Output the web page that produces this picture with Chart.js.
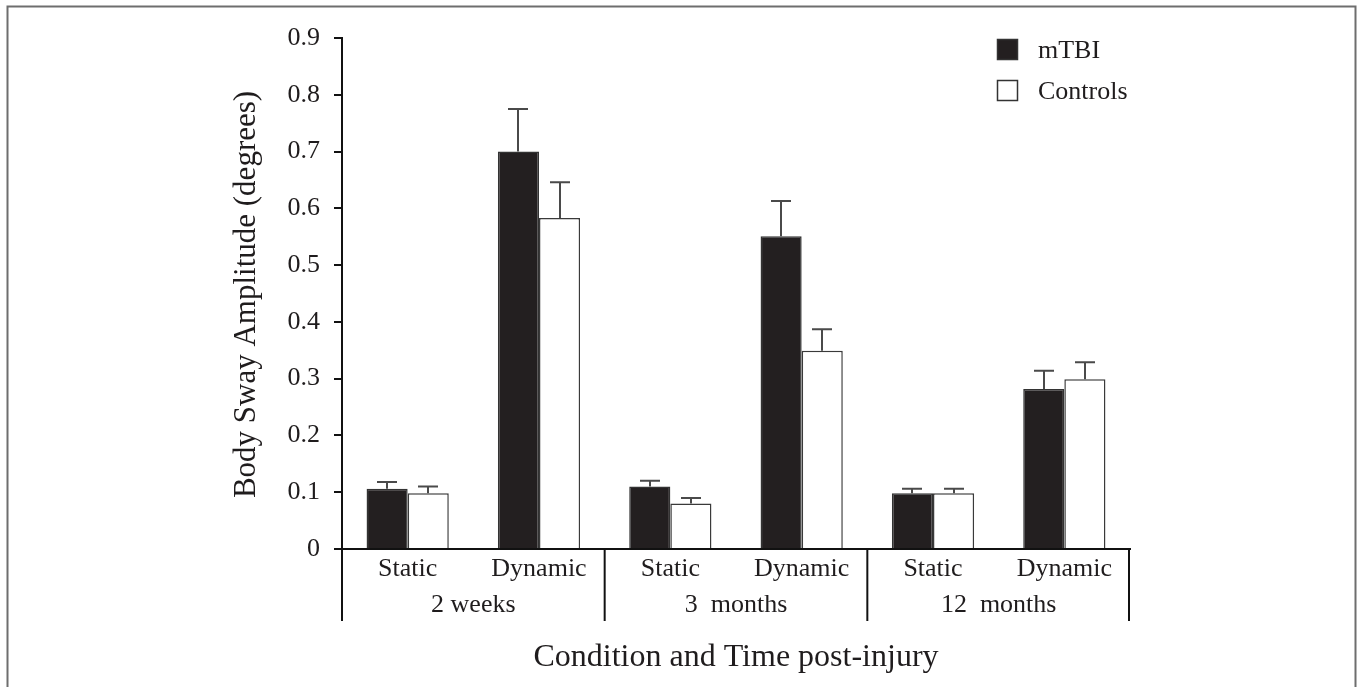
<!DOCTYPE html>
<html>
<head>
<meta charset="utf-8">
<script src="https://cdn.jsdelivr.net/npm/chart.js@4/dist/chart.umd.min.js"></script>
<style>
  html, body { margin: 0; padding: 0; background: #fff; }
  #wrap { width: 1360px; height: 687px; }
</style>
</head>
<body>
<div id="wrap"><canvas id="c" width="1360" height="687"></canvas></div>
<script>
// ---- data ----
const categories = ['Static', 'Dynamic', 'Static', 'Dynamic', 'Static', 'Dynamic'];
const groupLabels = ['2 weeks', '3  months', '12  months'];
const seriesNames = ['mTBI', 'Controls'];
const mtbiValues = [0.106, 0.700, 0.110, 0.551, 0.098, 0.282];
const mtbiErrors = [0.012, 0.075, 0.010, 0.062, 0.008, 0.032];
const controlValues = [0.098, 0.583, 0.080, 0.349, 0.098, 0.299];
const controlErrors = [0.012, 0.063, 0.010, 0.038, 0.008, 0.030];
const yTickLabels = ['0', '0.1', '0.2', '0.3', '0.4', '0.5', '0.6', '0.7', '0.8', '0.9'];
const yTitle = 'Body Sway Amplitude (degrees)';
const xTitle = 'Condition and Time post-injury';

const FONT = '"Liberation Serif", "Times New Roman", serif';
const INK = '#1f1c1d';
const DARK = '#231f20';
const errorsByDataset = [mtbiErrors, controlErrors];

const decorPlugin = {
  id: 'decor',
  beforeDraw(chart) {
    const ctx = chart.ctx;
    ctx.save();
    ctx.fillStyle = '#fff';
    ctx.fillRect(0, 0, chart.width, chart.height);
    ctx.strokeStyle = '#6e6e6e';
    ctx.lineWidth = 2;
    ctx.beginPath();
    ctx.moveTo(7.5, 700);
    ctx.lineTo(7.5, 6.5);
    ctx.lineTo(1355.5, 6.5);
    ctx.lineTo(1355.5, 700);
    ctx.stroke();
    ctx.restore();
  },
  afterDatasetsDraw(chart) {
    const ctx = chart.ctx;
    const ys = chart.scales.y;
    ctx.save();
    ctx.strokeStyle = '#4a4a4a';
    ctx.lineWidth = 2;
    chart.data.datasets.forEach((ds, i) => {
      const meta = chart.getDatasetMeta(i);
      meta.data.forEach((el, j) => {
        const v = ds.data[j];
        const top = ys.getPixelForValue(v + errorsByDataset[i][j]);
        const x = Math.round(el.x) + 0.0;
        ctx.beginPath();
        ctx.moveTo(x, el.y);
        ctx.lineTo(x, top);
        ctx.moveTo(x - 10, top);
        ctx.lineTo(x + 10, top);
        ctx.stroke();
      });
    });
    ctx.restore();
  },
  afterDraw(chart) {
    const ctx = chart.ctx;
    const xs = chart.scales.x;
    const area = chart.chartArea;
    ctx.save();
    // group dividers
    ctx.strokeStyle = '#111';
    ctx.lineWidth = 2;
    const divs = [area.left];
    for (let g = 1; g < groupLabels.length; g++) {
      divs.push((xs.getPixelForValue(2 * g - 1) + xs.getPixelForValue(2 * g)) / 2);
    }
    divs.push(area.right - 1);
    divs.forEach(d => {
      ctx.beginPath();
      ctx.moveTo(d, area.bottom);
      ctx.lineTo(d, 621);
      ctx.stroke();
    });
    // group labels
    ctx.fillStyle = INK;
    ctx.font = '26px ' + FONT;
    ctx.textAlign = 'center';
    ctx.textBaseline = 'middle';
    groupLabels.forEach((g, k) => {
      const cx = (xs.getPixelForValue(2 * k) + xs.getPixelForValue(2 * k + 1)) / 2;
      ctx.fillText(g, cx, 605);
    });
    // x title
    ctx.font = '32px ' + FONT;
    ctx.fillText(xTitle, (area.left + area.right) / 2, 658);
    // y title
    ctx.save();
    ctx.translate(247, (area.top + area.bottom) / 2 + 1);
    ctx.rotate(-Math.PI / 2);
    ctx.font = '31px ' + FONT;
    ctx.fillText(yTitle, 0, 0);
    ctx.restore();
    // legend
    const items = [
      { name: seriesNames[0], fill: DARK, y: 39 },
      { name: seriesNames[1], fill: '#fff', y: 80 }
    ];
    ctx.font = '26px ' + FONT;
    ctx.textAlign = 'left';
    items.forEach(it => {
      ctx.fillStyle = it.fill;
      ctx.fillRect(997, it.y, 21, 21);
      ctx.strokeStyle = '#333';
      ctx.lineWidth = 1.5;
      ctx.strokeRect(997.5, it.y + 0.5, 20, 20);
      ctx.fillStyle = INK;
      ctx.fillText(it.name, 1038, it.y + 12);
    });
    ctx.restore();
  }
};

new Chart(document.getElementById('c'), {
  type: 'bar',
  data: {
    labels: categories,
    datasets: [
      {
        label: seriesNames[0],
        data: mtbiValues,
        backgroundColor: DARK,
        borderColor: '#333',
        borderWidth: 1.5,
        categoryPercentage: 0.626,
        barPercentage: 1.0
      },
      {
        label: seriesNames[1],
        data: controlValues,
        backgroundColor: '#ffffff',
        borderColor: '#3a3a3a',
        borderWidth: 1.5,
        categoryPercentage: 0.626,
        barPercentage: 1.0
      }
    ]
  },
  options: {
    responsive: false,
    animation: false,
    layout: { padding: { left: 0, right: 230, top: 38, bottom: 0 } },
    plugins: {
      legend: { display: false },
      tooltip: { enabled: false }
    },
    scales: {
      x: {
        afterFit(s) { s.height = 138; },
        grid: { display: false, drawTicks: false },
        border: { display: true, color: '#111', width: 2 },
        ticks: {
          color: INK,
          font: { family: FONT, size: 26 },
          padding: 5,
          maxRotation: 0,
          autoSkip: false
        }
      },
      y: {
        min: 0,
        max: 0.9,
        afterFit(s) { s.width = 342; },
        grid: { drawOnChartArea: false, drawTicks: true, tickLength: 8, color: '#111', lineWidth: 2 },
        border: { display: true, color: '#111', width: 2 },
        ticks: {
          stepSize: 0.1,
          color: INK,
          font: { family: FONT, size: 26 },
          padding: 14,
          callback: (v, i) => yTickLabels[i]
        }
      }
    }
  },
  plugins: [decorPlugin]
});
</script>
</body>
</html>
